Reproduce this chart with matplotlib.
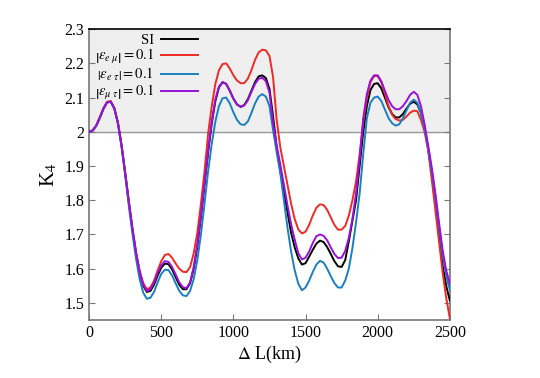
import matplotlib
matplotlib.use('Agg')
import matplotlib.pyplot as plt

plt.rcParams['font.family'] = ['Liberation Serif', 'DejaVu Serif']
plt.rcParams['mathtext.fontset'] = 'stix'

# Baseline in km, every 25 km
L = list(range(0, 2501, 25))

# K4
k_si = [2.000, 2.004, 2.018, 2.042, 2.068, 2.086, 2.088, 2.068, 2.025, 1.960,
        1.880, 1.795, 1.715, 1.645, 1.588, 1.550, 1.532, 1.535, 1.553, 1.580,
        1.603, 1.615, 1.613, 1.598, 1.575, 1.553, 1.540, 1.540, 1.558, 1.600,
        1.665, 1.750, 1.845, 1.940, 2.025, 2.090, 2.130, 2.145, 2.140, 2.120,
        2.097, 2.080, 2.073, 2.078, 2.095, 2.120, 2.145, 2.162, 2.165, 2.157,
        2.125, 2.045, 1.955, 1.885, 1.825, 1.765, 1.705, 1.662, 1.630, 1.612,
        1.616, 1.635, 1.655, 1.673, 1.682, 1.678, 1.663, 1.643, 1.622, 1.607,
        1.605, 1.625, 1.680, 1.740, 1.800, 1.900, 2.000, 2.075, 2.122, 2.140,
        2.142, 2.127, 2.100, 2.072, 2.052, 2.042, 2.042, 2.052, 2.068, 2.082,
        2.088, 2.080, 2.055, 2.012, 1.950, 1.880, 1.800, 1.705, 1.610, 1.550,
        1.507]
k_emu = [2.000, 2.004, 2.019, 2.044, 2.070, 2.088, 2.090, 2.070, 2.027, 1.962,
         1.882, 1.798, 1.720, 1.650, 1.595, 1.558, 1.540, 1.545, 1.565, 1.595,
         1.622, 1.640, 1.643, 1.632, 1.615, 1.600, 1.591, 1.590, 1.605, 1.645,
         1.705, 1.790, 1.885, 1.995, 2.075, 2.140, 2.180, 2.198, 2.200, 2.185,
         2.165, 2.150, 2.142, 2.142, 2.155, 2.180, 2.210, 2.232, 2.240, 2.238,
         2.222, 2.160, 2.035, 1.955, 1.900, 1.845, 1.790, 1.745, 1.715, 1.703,
         1.708, 1.728, 1.755, 1.778, 1.788, 1.786, 1.772, 1.750, 1.728, 1.714,
         1.714, 1.725, 1.755, 1.800, 1.855, 1.935, 2.030, 2.100, 2.145, 2.163,
         2.163, 2.145, 2.112, 2.075, 2.050, 2.037, 2.033, 2.035, 2.045, 2.056,
         2.062, 2.060, 2.035, 2.000, 1.945, 1.860, 1.770, 1.680, 1.590, 1.515,
         1.455]
k_etau = [2.000, 2.004, 2.018, 2.042, 2.068, 2.086, 2.088, 2.068, 2.024, 1.955,
          1.872, 1.785, 1.703, 1.630, 1.570, 1.530, 1.512, 1.515, 1.532, 1.560,
          1.585, 1.597, 1.596, 1.580, 1.557, 1.535, 1.522, 1.520, 1.535, 1.570,
          1.625, 1.700, 1.790, 1.885, 1.965, 2.030, 2.075, 2.098, 2.100, 2.083,
          2.057, 2.035, 2.022, 2.020, 2.030, 2.055, 2.083, 2.103, 2.110, 2.103,
          2.075, 2.005, 1.940, 1.880, 1.800, 1.720, 1.650, 1.595, 1.556, 1.537,
          1.545, 1.565, 1.590, 1.612, 1.623, 1.618, 1.600, 1.578, 1.558, 1.545,
          1.545, 1.565, 1.600, 1.660, 1.735, 1.820, 1.935, 2.040, 2.085, 2.100,
          2.103, 2.090, 2.065, 2.040, 2.025, 2.018, 2.022, 2.040, 2.063, 2.085,
          2.094, 2.085, 2.055, 2.010, 1.950, 1.885, 1.810, 1.725, 1.640, 1.580,
          1.538]
k_mutau = [2.000, 2.004, 2.018, 2.042, 2.068, 2.086, 2.088, 2.068, 2.025, 1.960,
           1.880, 1.797, 1.718, 1.648, 1.592, 1.553, 1.535, 1.540, 1.560, 1.588,
           1.610, 1.622, 1.620, 1.605, 1.583, 1.560, 1.546, 1.543, 1.560, 1.605,
           1.670, 1.755, 1.850, 1.945, 2.030, 2.095, 2.132, 2.145, 2.140, 2.120,
           2.097, 2.080, 2.073, 2.077, 2.092, 2.117, 2.140, 2.155, 2.158, 2.148,
           2.115, 2.025, 1.960, 1.905, 1.845, 1.785, 1.730, 1.685, 1.645, 1.627,
           1.632, 1.650, 1.675, 1.695, 1.700, 1.696, 1.683, 1.662, 1.643, 1.631,
           1.632, 1.652, 1.690, 1.745, 1.820, 1.920, 2.040, 2.110, 2.150, 2.165,
           2.165, 2.148, 2.120, 2.093, 2.075, 2.066, 2.066, 2.075, 2.090, 2.108,
           2.117, 2.108, 2.075, 2.022, 1.960, 1.895, 1.820, 1.735, 1.655, 1.595,
           1.557]

series = [
    ('SI', k_si, 'black'),
    (r'$\left|\varepsilon_{e\ \mu}\right| = 0.1$', k_emu, '#ee2a24'),
    (r'$\left|\varepsilon_{e\ \tau}\right| = 0.1$', k_etau, '#1a7fc0'),
    (r'$\left|\varepsilon_{\mu\ \tau}\right| = 0.1$', k_mutau, '#9a10d8'),
]

fig = plt.figure(figsize=(5.4, 3.78), dpi=100)
ax = fig.add_axes([0.165, 0.1534, 0.668, 0.7695])

ax.axhspan(2.0, 2.3, color='#efefef', zorder=0)
ax.axhline(2.0, color='#999999', lw=1.0, zorder=1)

for name, vals, col in series:
    ax.plot(L, vals, color=col, lw=1.4, label=name, zorder=3)

ax.set_xlim(0, 2500)
ax.set_ylim(1.45, 2.3)
ax.set_xticks([0, 500, 1000, 1500, 2000, 2500])
ax.set_yticks([1.5, 1.6, 1.7, 1.8, 1.9, 2.0, 2.1, 2.2, 2.3])
ax.set_yticklabels(['1.5', '1.6', '1.7', '1.8', '1.9', '2', '2.1', '2.2', '2.3'])
ax.tick_params(direction='in', length=4, color='#777777', labelsize=11.5,
               right=True, top=False)

for s in ['left', 'bottom', 'right']:
    ax.spines[s].set_color('#777777')
    ax.spines[s].set_linewidth(1.2)
ax.spines['top'].set_color('black')
ax.spines['top'].set_linewidth(1.2)

ax.set_xlabel(r'$\Delta$ L(km)', fontsize=13, labelpad=2)
ax.set_ylabel(r'K$_4$', fontsize=15, labelpad=4)

ax.legend(loc='upper right', bbox_to_anchor=(0.33, 1.02), frameon=False,
          markerfirst=False, fontsize=10.5, handlelength=2.5, handletextpad=0.5,
          labelspacing=0.0, borderpad=0.2)

plt.savefig('out.png', dpi=100)
